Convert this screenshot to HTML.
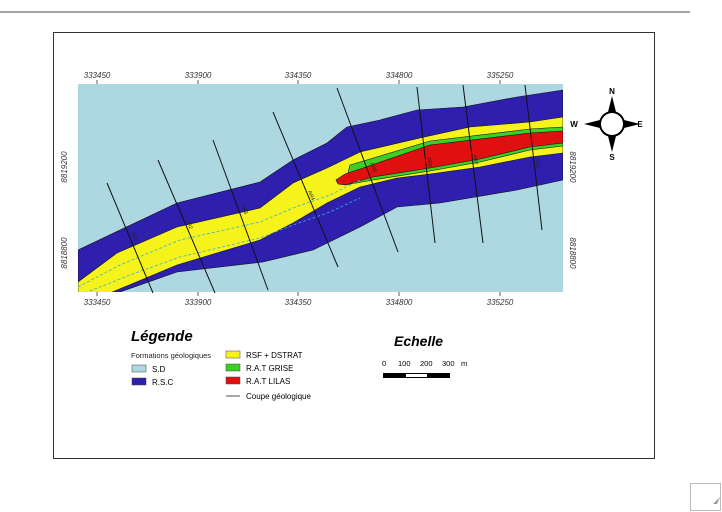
<!DOCTYPE html>
<html><head><meta charset="utf-8"><style>
html,body{margin:0;padding:0;background:#fff;width:722px;height:512px;overflow:hidden}
svg{display:block}
text{font-family:"Liberation Sans",sans-serif}
</style></head><body>
<svg width="722" height="512" viewBox="0 0 722 512" xmlns="http://www.w3.org/2000/svg">
<line x1="0" y1="12" x2="690" y2="12" stroke="#444" stroke-width="1"/>
<rect x="53.5" y="32.5" width="601" height="426" fill="#fff" stroke="#333" stroke-width="1"/>
<defs><clipPath id="m"><rect x="78" y="84" width="485" height="208"/></clipPath></defs>
<rect x="78" y="84" width="485" height="208" fill="#add8e2"/>
<g clip-path="url(#m)" stroke="#111" stroke-width="0.6">
<polygon fill="#2e1fae" points="78,250 177,203 260,182 293,160 327,143 347,127 380,120 417,110 463,107 517,97 563,90 563,180 517,190 440,203 397,207 360,227 313,250 263,262 177,272 117,293 78,293"/>
<polygon fill="#f6f31a" points="78,282 117,253 177,227 260,208 293,183 327,168 360,152 420,138 470,127 530,122 563,117 563,153 530,157 480,167 430,174 397,178 360,187 327,203 293,223 260,240 177,265 110,293 78,293"/>
<polygon fill="#3ccf25" points="350,165 430,141 530,129 563,127 563,146 530,150 480,162 430,171 373,180 345,185"/>
<polygon fill="#e01010" points="345,174 363,168 430,145 530,133 563,131 563,143 530,147 480,159 430,168 373,177 345,185 338,184 336,180"/>
</g>
<g clip-path="url(#m)" fill="none" stroke="#3ab0d8" stroke-width="0.8" stroke-dasharray="3,2">
<polyline points="78,287 120,265 180,240 260,222 293,208 330,195 360,180"/>
<polyline points="85,293 130,275 180,257 260,238 293,225 330,212 360,198"/>
</g>
<g stroke="#111" stroke-width="1">
<line x1="107" y1="183" x2="153" y2="293"/>
<line x1="158" y1="160" x2="215" y2="293"/>
<line x1="213" y1="140" x2="268" y2="290"/>
<line x1="273" y1="112" x2="338" y2="267"/>
<line x1="337" y1="88" x2="398" y2="252"/>
<line x1="417" y1="87" x2="435" y2="243"/>
<line x1="463" y1="85" x2="483" y2="243"/>
<line x1="525" y1="85" x2="542" y2="230"/>
</g>
<g font-size="5" fill="#222" text-anchor="middle">
<text transform="translate(133,237) rotate(68)">AR1</text>
<text transform="translate(188,225) rotate(68)">AR2</text>
<text transform="translate(243,210) rotate(68)">AR3</text>
<text transform="translate(310,196) rotate(68)">AR4</text>
<text transform="translate(372,168) rotate(70)">AR5</text>
<text transform="translate(428,162) rotate(83)">AR6</text>
<text transform="translate(474,160) rotate(83)">AR7</text>
<text transform="translate(536,163) rotate(83)">AR8</text>
</g>
<g font-size="8" font-style="italic" fill="#333" text-anchor="middle">
<text x="97" y="78">333450</text><text x="198" y="78">333900</text><text x="298" y="78">334350</text><text x="399" y="78">334800</text><text x="500" y="78">335250</text>
<text x="97" y="305">333450</text><text x="198" y="305">333900</text><text x="298" y="305">334350</text><text x="399" y="305">334800</text><text x="500" y="305">335250</text>
<text transform="translate(67,167) rotate(-90)">8819200</text>
<text transform="translate(67,253) rotate(-90)">8818800</text>
<text transform="translate(570,167) rotate(90)">8819200</text>
<text transform="translate(570,253) rotate(90)">8818800</text>
</g>
<g stroke="#333" stroke-width="0.8">
<line x1="97" y1="80" x2="97" y2="84"/><line x1="198" y1="80" x2="198" y2="84"/><line x1="298" y1="80" x2="298" y2="84"/><line x1="399" y1="80" x2="399" y2="84"/><line x1="500" y1="80" x2="500" y2="84"/>
<line x1="97" y1="292" x2="97" y2="296"/><line x1="198" y1="292" x2="198" y2="296"/><line x1="298" y1="292" x2="298" y2="296"/><line x1="399" y1="292" x2="399" y2="296"/><line x1="500" y1="292" x2="500" y2="296"/>
</g>
<g fill="#000">
<polygon points="608,112 616,112 612,96"/>
<polygon points="608,136 616,136 612,152"/>
<polygon points="600,120 600,128 584,124"/>
<polygon points="624,120 624,128 640,124"/>
<circle cx="612" cy="124" r="13" fill="#000"/>
<circle cx="612" cy="124" r="11" fill="#fff"/>
</g>
<g font-size="8" font-weight="bold" fill="#000" text-anchor="middle">
<text x="612" y="94">N</text><text x="612" y="160">S</text><text x="574" y="127">W</text><text x="640" y="127">E</text>
</g>
<text x="131" y="341" font-size="15" font-weight="bold" font-style="italic">Légende</text>
<text x="131" y="358" font-size="7.5" fill="#222">Formations géologiques</text>
<rect x="132" y="365" width="14" height="7" fill="#add8e2" stroke="#444" stroke-width="0.5"/><text x="152" y="372" font-size="8">S.D</text>
<rect x="132" y="378" width="14" height="7" fill="#2e1fae" stroke="#444" stroke-width="0.5"/><text x="152" y="385" font-size="8">R.S.C</text>
<rect x="226" y="351" width="14" height="7" fill="#f6f31a" stroke="#444" stroke-width="0.5"/><text x="246" y="358" font-size="8">RSF + DSTRAT</text>
<rect x="226" y="364" width="14" height="7" fill="#3ccf25" stroke="#444" stroke-width="0.5"/><text x="246" y="371" font-size="8">R.A.T GRISE</text>
<rect x="226" y="377" width="14" height="7" fill="#e01010" stroke="#444" stroke-width="0.5"/><text x="246" y="384" font-size="8">R.A.T LILAS</text>
<line x1="226" y1="396" x2="240" y2="396" stroke="#222" stroke-width="0.8"/><text x="246" y="399" font-size="8">Coupe géologique</text>
<text x="394" y="346" font-size="14" font-weight="bold" font-style="italic">Echelle</text>
<g font-size="7.5"><text x="382" y="366">0</text><text x="398" y="366">100</text><text x="420" y="366">200</text><text x="442" y="366">300</text><text x="461" y="366">m</text></g>
<rect x="383" y="373" width="67" height="5" fill="#000"/><rect x="406" y="374" width="21" height="3" fill="#fff"/>
<rect x="690.5" y="483.5" width="30" height="27" fill="#fff" stroke="#bbb" stroke-width="1"/>
<polygon points="713,504 720,497 717,504" fill="#999"/>
</svg>
</body></html>
